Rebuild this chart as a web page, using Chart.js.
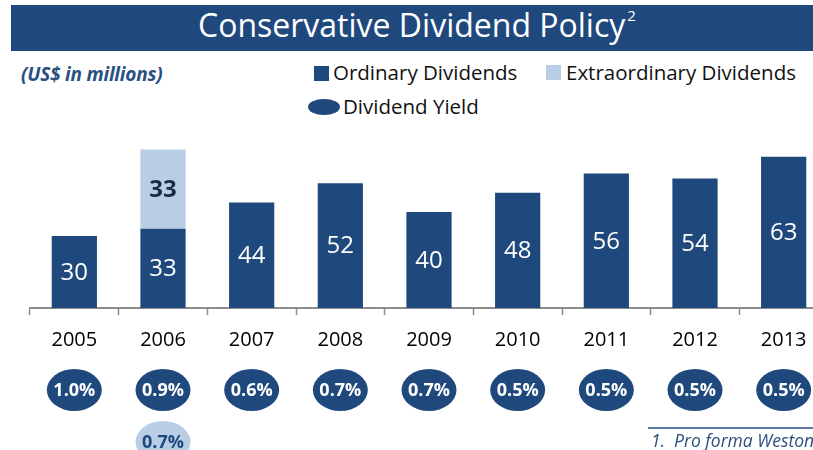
<!DOCTYPE html>
<html lang="en">
<head>
<meta charset="UTF-8">
<title>Conservative Dividend Policy</title>
<script src="https://cdn.jsdelivr.net/npm/chart.js"></script>
<style>
    body { margin: 0; width: 813px; height: 450px; overflow: hidden; background: #fff; font-family: "Open Sans", sans-serif; position: relative; }
    .banner { position: absolute; left: 11px; top: 5px; width: 802px; height: 46px; background: #1F497D; }
    .title { position: absolute; left: 198px; top: 3px; color: #fff; font-size: 32px; white-space: nowrap; }
    .title sup { font-size: 15px; position: relative; top: -4px; margin-left: 2px; }
    .units { position: absolute; left: 21px; top: 61px; color: #2A5082; font-size: 19px; font-weight: 700; font-style: italic; letter-spacing: -0.2px; }
    .leg { position: absolute; font-size: 20.5px; color: #111; white-space: nowrap; }
    .sq { position: absolute; width: 15px; height: 15px; }
    .ell { position: absolute; width: 32px; height: 16px; border-radius: 50%; background: #1F497D; }
    .chartBox { position: absolute; left: 0; top: 140px; width: 828px; height: 310px; }
    .fnline { position: absolute; left: 648px; top: 427px; width: 170px; height: 1.5px; background: #5B7BA6; }
    .fn { position: absolute; left: 651px; top: 428px; font-size: 17.5px; font-style: italic; color: #2C4F80; white-space: nowrap; }
</style>
</head>
<body>
    <div class="banner"></div>
    <div class="title">Conservative Dividend Policy<sup>2</sup></div>
    <div class="units">(US$ in millions)</div>

    <div class="sq" style="left:314px; top:66px; background:#1F497D"></div>
    <div class="leg" style="left:333px; top:58px">Ordinary Dividends</div>
    <div class="sq" style="left:546px; top:65px; background:#B9CDE5"></div>
    <div class="leg" style="left:566px; top:58px">Extraordinary Dividends</div>
    <div class="ell" style="left:308px; top:99px"></div>
    <div class="leg" style="left:343px; top:92px">Dividend Yield</div>

    <div class="chartBox">
        <canvas id="dividends"></canvas>
    </div>

    <div class="fnline"></div>
    <div class="fn">1.&nbsp;&nbsp;Pro forma Weston</div>

<script>
    const years = ["2005", "2006", "2007", "2008", "2009", "2010", "2011", "2012", "2013"];
    const ordinary = [30, 33, 44, 52, 40, 48, 56, 54, 63];
    const extraordinary = [null, 33, null, null, null, null, null, null, null];
    const yieldOrdinary = [1.0, 0.9, 0.6, 0.7, 0.7, 0.5, 0.5, 0.5, 0.5];
    const yieldExtra = [null, 0.7, null, null, null, null, null, null, null];

    const navy = "#1F497D";
    const light = "#B9CDE5";

    // numbers inside the bars
    const barLabels = {
        id: "barLabels",
        afterDatasetsDraw(chart) {
            const { ctx } = chart;
            ctx.save();
            ctx.textAlign = "center";
            ctx.textBaseline = "middle";
            chart.data.datasets.forEach((ds, di) => {
                const meta = chart.getDatasetMeta(di);
                meta.data.forEach((bar, i) => {
                    const v = ds.data[i];
                    if (v == null) return;
                    const y = (bar.y + bar.base) / 2;
                    if (di === 0) {
                        ctx.font = "24px 'Open Sans'";
                        ctx.fillStyle = "#fff";
                    } else {
                        ctx.font = "bold 24px 'Open Sans'";
                        ctx.fillStyle = "#1B2A47";
                    }
                    ctx.fillText(v, bar.x, y + 1);
                });
            });
            ctx.restore();
        }
    };

    // dividend yield ovals under each year
    const yieldOvals = {
        id: "yieldOvals",
        afterDraw(chart) {
            const { ctx, scales: { x } } = chart;
            ctx.save();
            ctx.textAlign = "center";
            ctx.textBaseline = "middle";
            ctx.font = "bold 18px 'Open Sans'";
            const rows = [
                { vals: yieldOrdinary, y: 250, fill: navy, text: "#fff" },
                { vals: yieldExtra, y: 302, fill: light, text: "#1F497D" }
            ];
            rows.forEach(r => {
                r.vals.forEach((v, i) => {
                    if (v == null) return;
                    const cx = x.getPixelForValue(i);
                    ctx.beginPath();
                    ctx.ellipse(cx, r.y, 27.5, 21, 0, 0, Math.PI * 2);
                    ctx.fillStyle = r.fill;
                    ctx.fill();
                    ctx.fillStyle = r.text;
                    ctx.fillText(v.toFixed(1) + "%", cx, r.y + 1);
                });
            });
            ctx.restore();
        }
    };

    const config = {
        type: "bar",
        data: {
            labels: years,
            datasets: [
                {
                    label: "Ordinary Dividends",
                    data: ordinary,
                    backgroundColor: navy,
                    barPercentage: 0.51,
                    categoryPercentage: 1
                },
                {
                    label: "Extraordinary Dividends",
                    data: extraordinary,
                    backgroundColor: light,
                    barPercentage: 0.51,
                    categoryPercentage: 1
                }
            ]
        },
        options: {
            responsive: true,
            maintainAspectRatio: false,
            animation: false,
            layout: { padding: { left: 30, right: 0, top: 0, bottom: 0 } },
            plugins: {
                legend: { display: false },
                tooltip: { enabled: false }
            },
            scales: {
                x: {
                    stacked: true,
                    offset: true,
                    afterFit(scale) { scale.height = 142; },
                    grid: {
                        offset: true,
                        drawOnChartArea: false,
                        tickLength: 7,
                        tickWidth: 1.5,
                        tickColor: "#8C8C8C"
                    },
                    border: { color: "#8C8C8C", width: 2 },
                    ticks: {
                        color: "#000",
                        padding: 13,
                        font: { family: "'Open Sans'", size: 20 }
                    }
                },
                y: {
                    stacked: true,
                    display: false,
                    min: 0,
                    max: 70
                }
            }
        },
        plugins: [barLabels, yieldOvals]
    };

    new Chart(document.getElementById("dividends"), config);
</script>
</body>
</html>
